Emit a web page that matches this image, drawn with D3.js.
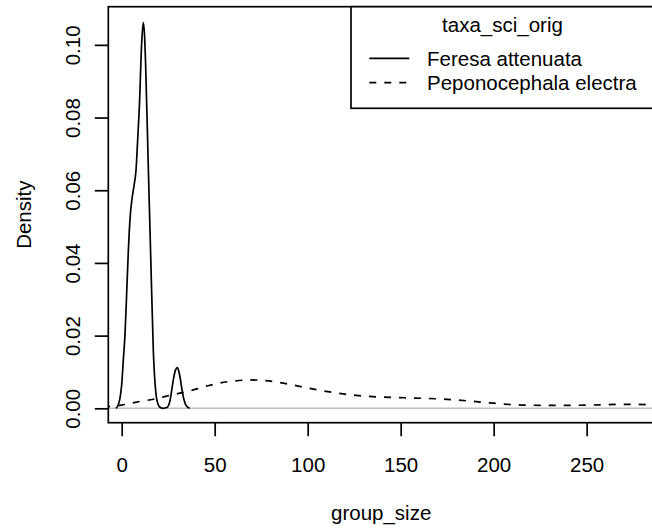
<!DOCTYPE html>
<html>
<head>
<meta charset="utf-8">
<script src="https://cdn.jsdelivr.net/npm/d3@7"></script>
<style>
  html, body { margin: 0; padding: 0; background: #fff; }
  svg { display: block; }
  text { font-family: "Liberation Sans", Arial, Helvetica, sans-serif; fill: #000; }
</style>
</head>
<body>
<svg id="chart" width="652" height="529"></svg>
<script>
// ---- data ----
const seriesNames = ["Feresa attenuata", "Peponocephala electra"];
const legendTitle = "taxa_sci_orig";
const xLabel = "group_size";
const yLabel = "Density";
const xTicks = [0, 50, 100, 150, 200, 250];
const yTicks = [0, 0.02, 0.04, 0.06, 0.08, 0.10];

const feresaX = [-3.0, -2.4, -1.5, -0.7, 0, 0.9, 1.8, 2.7, 3.6, 4.6, 5.7, 6.7, 7.7, 8.6, 9.5, 10.75, 11.6, 12.3, 12.9, 14.3, 15.75, 17, 18.4, 19.5, 20.6, 22.4, 24.2, 25.1, 26, 26.9, 28.0, 28.9, 29.9, 30.7, 31.5, 32.3, 33.1, 34.2, 35.5, 36.5];
const feresaDensity = [0, 0.0004, 0.0015, 0.0035, 0.0065, 0.0135, 0.0205, 0.032, 0.0436, 0.053, 0.0582, 0.0615, 0.0655, 0.074, 0.083, 0.1005, 0.1061, 0.1025, 0.094, 0.0665, 0.039, 0.016, 0.0041, 0.0012, 0.0003, 0.0, 0.0002, 0.0007, 0.0022, 0.005, 0.0085, 0.0105, 0.0112, 0.0102, 0.0082, 0.0055, 0.0032, 0.0012, 0.0003, 0];

const peponoX = [-10, -5, 0, 5, 10, 17, 27, 36, 45, 52, 60, 69, 77, 85, 92, 105, 120, 135, 152, 170, 187, 200, 215, 234, 253, 272, 290];
const peponoDensity = [0.0003, 0.0006, 0.0009, 0.0014, 0.0019, 0.0025, 0.0037, 0.0047, 0.006, 0.0069, 0.0075, 0.0078, 0.0076, 0.0071, 0.0064, 0.0051, 0.0039, 0.0032, 0.0029, 0.0026, 0.0020, 0.0014, 0.0009, 0.0008, 0.0009, 0.0011, 0.0009];

// ---- layout ----
const FS = 20.5;
const plot = { left: 108.3, top: 6.7, right: 654, bottom: 422.7 };
const svg = d3.select("#chart");
svg.append("rect").attr("width", 652).attr("height", 529).attr("fill", "#fff");

const x = d3.scaleLinear().domain([-7.2, 286.2]).range([plot.left, plot.right]);
const y = d3.scaleLinear().domain([-0.00396, 0.1105]).range([plot.bottom, plot.top]);

svg.append("defs").append("clipPath").attr("id", "clip")
  .append("rect").attr("x", plot.left).attr("y", plot.top)
  .attr("width", plot.right - plot.left).attr("height", plot.bottom - plot.top);

const g = svg.append("g").attr("clip-path", "url(#clip)");

// zero reference line
g.append("line")
  .attr("x1", plot.left).attr("x2", plot.right)
  .attr("y1", y(0)).attr("y2", y(0))
  .attr("stroke", "#bebebe").attr("stroke-width", 1.5);

const line = d3.line().x(d => x(d[0])).y(d => y(d[1])).curve(d3.curveMonotoneX);

g.append("path")
  .datum(peponoX.map((v, i) => [v, peponoDensity[i]]))
  .attr("d", line).attr("fill", "none").attr("stroke", "#000")
  .attr("stroke-width", 1.7).attr("stroke-dasharray", "7,8");

g.append("path")
  .datum(feresaX.map((v, i) => [v, feresaDensity[i]]))
  .attr("d", line).attr("fill", "none").attr("stroke", "#000")
  .attr("stroke-width", 1.7).attr("stroke-linejoin", "round");

// box
svg.append("rect")
  .attr("x", plot.left).attr("y", plot.top)
  .attr("width", plot.right - plot.left).attr("height", plot.bottom - plot.top)
  .attr("fill", "none").attr("stroke", "#000").attr("stroke-width", 1.7);

// x axis
const xAxis = svg.append("g").attr("transform", `translate(0,${plot.bottom})`)
  .call(d3.axisBottom(x).tickValues(xTicks).tickFormat(d3.format("d")).tickSize(13.5));
xAxis.select(".domain").remove();
xAxis.selectAll(".tick line").attr("stroke", "#000").attr("stroke-width", 1.7);
xAxis.selectAll(".tick text").attr("y", 49).attr("dy", 0)
  .style("font-size", FS + "px").style("font-family", '"Liberation Sans", Arial, sans-serif');

// y axis
const yAxis = svg.append("g").attr("transform", `translate(${plot.left},0)`)
  .call(d3.axisLeft(y).tickValues(yTicks).tickFormat(d3.format(".2f")).tickSize(13.5));
yAxis.select(".domain").remove();
yAxis.selectAll(".tick line").attr("stroke", "#000").attr("stroke-width", 1.7);
yAxis.selectAll(".tick text")
  .attr("x", 0).attr("y", -28.8).attr("dy", 0)
  .attr("transform", "rotate(-90)")
  .attr("text-anchor", "middle")
  .style("font-size", FS + "px").style("font-family", '"Liberation Sans", Arial, sans-serif');

// axis titles
svg.append("text").attr("x", (plot.left + plot.right) / 2).attr("y", 520)
  .attr("text-anchor", "middle").style("font-size", FS + "px").text(xLabel);
svg.append("text")
  .attr("transform", `translate(31,${(plot.top + plot.bottom) / 2}) rotate(-90)`)
  .attr("text-anchor", "middle").style("font-size", FS + "px").text(yLabel);

// legend
const lg = svg.append("g");
lg.append("rect").attr("x", 351).attr("y", plot.top).attr("width", plot.right - 351)
  .attr("height", 108.3 - plot.top).attr("fill", "#fff")
  .attr("stroke", "#000").attr("stroke-width", 1.7);
lg.append("text").attr("x", (351 + plot.right) / 2).attr("y", 32)
  .attr("text-anchor", "middle").style("font-size", FS + "px").text(legendTitle);
const rows = [
  { name: seriesNames[0], ly: 58.3, dash: null },
  { name: seriesNames[1], ly: 82.7, dash: "7,8" }
];
rows.forEach(r => {
  lg.append("line").attr("x1", 369.3).attr("x2", 409.3).attr("y1", r.ly).attr("y2", r.ly)
    .attr("stroke", "#000").attr("stroke-width", 1.7)
    .attr("stroke-dasharray", r.dash);
  lg.append("text").attr("x", 427).attr("y", r.ly + 7.6)
    .style("font-size", FS + "px").text(r.name);
});
</script>
</body>
</html>
